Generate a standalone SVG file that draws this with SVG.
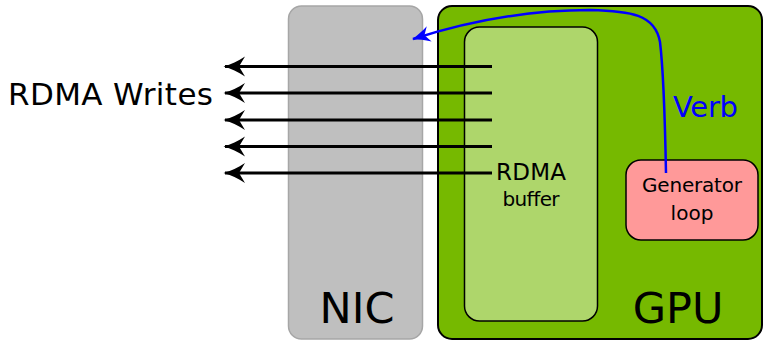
<svg xmlns="http://www.w3.org/2000/svg" width="763" height="340" viewBox="0 0 763 340">
<style>
text{font-family:"DejaVu Sans","Liberation Sans",sans-serif;fill:#000}
.w{stroke:#000;stroke-width:3;fill:none}
</style>
<defs>
<marker id="ah" markerUnits="userSpaceOnUse" markerWidth="26" markerHeight="26" viewBox="-23 -13 26 26" refX="0" refY="0" orient="auto">
<path d="M1.5,0 C-6,-2 -13,-5.5 -20,-10 L-14,0 L-20,10 C-13,5.5 -6,2 1.5,0 Z" fill="#000"/>
</marker>
<marker id="bh" markerUnits="userSpaceOnUse" markerWidth="22" markerHeight="22" viewBox="-20 -11 22 22" refX="0" refY="0" orient="auto">
<path d="M1,0 C-5,-2 -11,-4.5 -17,-8 L-12,0 L-17,8 C-11,4.5 -5,2 1,0 Z" fill="#0000ff"/>
</marker>
</defs>
<g id="nic">
<rect x="288.5" y="6" width="134" height="333" rx="13" fill="#bfbfbf" stroke="#a6a6a6" stroke-width="1.5"/>
<text x="357" y="323" font-size="43" text-anchor="middle">NIC</text>
</g>
<g id="gpu">
<rect x="438" y="6" width="324" height="333" rx="14" fill="#76b900" stroke="#000" stroke-width="2"/>
<text x="678" y="323" font-size="43" text-anchor="middle">GPU</text>
</g>
<g id="buffer">
<rect x="464.5" y="27" width="133" height="294" rx="15" fill="#aed66b" stroke="#000" stroke-width="1.5"/>
<text x="531" y="180" font-size="23" text-anchor="middle" textLength="70">RDMA</text>
<text x="531" y="206" font-size="20" text-anchor="middle" textLength="57">buffer</text>
</g>
<g id="generator">
<rect x="626" y="160" width="132" height="80" rx="15" fill="#ff9999" stroke="#000" stroke-width="1.5"/>
<text x="692" y="192" font-size="20" text-anchor="middle" textLength="100">Generator</text>
<text x="692" y="220" font-size="20" text-anchor="middle" textLength="43">loop</text>
</g>
<g id="rdma-writes">
<text x="8" y="105" font-size="31" textLength="205">RDMA Writes</text>
</g>
<g id="connectors">
<line class="w" x1="492" y1="66.5" x2="225" y2="66.5" marker-end="url(#ah)"/>
<line class="w" x1="492" y1="93" x2="225" y2="93" marker-end="url(#ah)"/>
<line class="w" x1="492" y1="120" x2="225" y2="120" marker-end="url(#ah)"/>
<line class="w" x1="492" y1="146.5" x2="225" y2="146.5" marker-end="url(#ah)"/>
<line class="w" x1="492" y1="173" x2="225" y2="173" marker-end="url(#ah)"/>
<path d="M666,173 C665,120 664,75 660,42 C655,14 630,11 590,10 C520,10 460,24 413,39" fill="none" stroke="#0000ff" stroke-width="2.5" marker-end="url(#bh)"/>
<text x="673" y="117" font-size="29" style="fill:#0000ff" textLength="65">Verb</text>
</g>
</svg>
